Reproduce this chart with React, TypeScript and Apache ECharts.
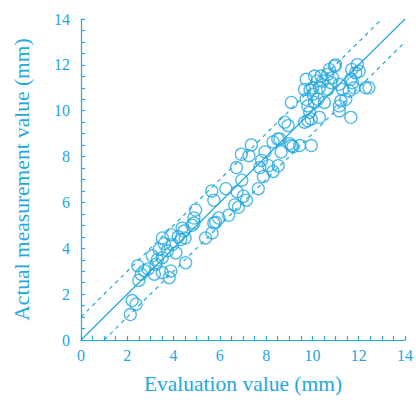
import React, { useEffect, useRef } from "react";
import * as echarts from "echarts";

const COLOR = "#22a7e0";

const xTicks = [0, 2, 4, 6, 8, 10, 12, 14];
const yTicks = [0, 2, 4, 6, 8, 10, 12, 14];

const evalValues: number[] = [
  2.13, 2.21, 2.38,
  2.45, 2.5, 2.6, 2.74, 3.17, 3.24, 3.08, 3.51, 3.51, 3.88, 3.81, 3.38, 3.52, 3.88, 3.95, 4.31, 4.1, 3.73, 4.52, 4.45, 4.88, 5.38, 5.66, 5.74,
  3.3, 2.9, 3.6, 4.2,
  4.95, 4.88, 4.8, 4.37, 4.5,
  7.36, 6.93, 7.26, 6.72, 8.3, 8.5, 7.95, 7.8, 8.65, 9.16, 7.73, 8.1, 8.3, 8.52, 7.88, 7.66, 6.95, 6.26, 5.65, 5.74, 6.74, 7.02, 7.15, 6.64, 6.8, 6.38, 5.95, 5.82,
  9.09, 8.8, 8.95, 9.09, 9.45, 9.95, 8.59, 9.73, 9.66, 9.73, 9.8, 9.88, 9.8, 9.95, 10.09, 10.3, 10.02, 10.23, 10.09, 10.37, 10.52, 10.3, 10.45, 10.66, 10.73, 10.95, 10.87, 10.8, 10.66,
  11.16, 11.3, 11.23, 11.44, 11.16, 11.16, 11.66, 11.94, 11.87, 11.73, 11.66, 11.59, 11.8, 12.3, 12.44, 12.02, 9.66, 9.02, 10.0, 10.2, 9.9, 11.0, 11.7,
];

const actualValues: number[] = [
  1.11, 1.72, 1.56,
  3.24, 2.6, 2.87, 3.02, 2.87, 3.3, 3.67, 3.59, 2.94, 3.01, 2.72, 3.95, 4.45, 4.59, 4.16, 4.38, 3.8, 3.89, 3.37, 4.75, 5.1, 4.45, 4.67, 5.1,
  3.5, 3.1, 4.2, 4.5,
  5.67, 5.32, 5.0, 4.88, 4.45,
  8.51, 8.1, 8.04, 7.52, 8.64, 8.77, 8.2, 7.83, 8.2, 8.43, 7.52, 7.6, 7.35, 7.6, 7.13, 6.6, 6.97, 6.6, 6.5, 6.1, 6.47, 6.27, 6.1, 5.89, 5.79, 5.44, 5.32, 5.14,
  10.36, 9.5, 9.35, 8.48, 8.48, 8.48, 8.77, 11.37, 10.93, 10.5, 10.21, 9.93, 9.56, 9.64, 11.51, 11.0, 10.72, 10.5, 10.36, 11.51, 10.36, 9.71, 11.29, 11.58, 11.8, 11.94, 11.44, 11.22, 10.93,
  11.15, 10.93, 10.43, 10.5, 10.21, 9.99, 9.71, 12.01, 11.65, 11.22, 11.37, 10.86, 11.0, 11.0, 11.0, 11.72, 9.5, 8.56, 11.0, 11.3, 10.9, 12.0, 11.8,
];

const identityLine = [[0, 0], [14, 14]];
const upperLine = [[0, 1], [13, 14]];
const lowerLine = [[1, 0], [14, 13]];

const FONT = "'Liberation Serif', 'Times New Roman', serif";

export default function App() {
  const ref = useRef<HTMLDivElement>(null);
  useEffect(() => {
    if (!ref.current) return;
    const chart = echarts.init(ref.current, undefined, { renderer: "svg" });
    const points = evalValues.map((x, i) => [x, actualValues[i]]);
    const axisCommon = (name: string, gap: number) => ({
      type: "value" as const,
      min: 0,
      max: 14,
      interval: 2,
      name,
      nameLocation: "middle" as const,
      nameGap: gap,
      nameTextStyle: { color: COLOR, fontFamily: FONT, fontSize: 21.5 },
      axisLine: { show: true, lineStyle: { color: COLOR, width: 1.2 } },
      axisTick: { show: true, inside: true, length: 4, lineStyle: { color: COLOR, width: 1.2 } },
      minorTick: { show: true, splitNumber: 4, length: 4, lineStyle: { color: COLOR, width: 1.2 } },
      splitLine: { show: false },
      axisLabel: { color: COLOR, fontFamily: FONT, fontSize: 16 },
    });
    chart.setOption({
      animation: false,
      backgroundColor: "#ffffff",
      grid: { left: 81, right: 8, top: 19, bottom: 57 },
      xAxis: {
        ...axisCommon("Evaluation value (mm)", 33),
        data: undefined,
        axisLabel: { color: COLOR, fontFamily: FONT, fontSize: 16, margin: 7, formatter: (v: number) => (xTicks.includes(v) ? String(v) : "") },
      },
      yAxis: {
        ...axisCommon("Actual measurement value (mm)", 48),
        axisLabel: { color: COLOR, fontFamily: FONT, fontSize: 16, margin: 11, formatter: (v: number) => (yTicks.includes(v) ? String(v) : "") },
      },
      series: [
        {
          type: "line",
          data: identityLine,
          symbol: "none",
          lineStyle: { color: COLOR, width: 1.2 },
          silent: true,
        },
        {
          type: "line",
          data: upperLine,
          symbol: "none",
          lineStyle: { color: COLOR, width: 1.2, type: [4, 4] },
          silent: true,
        },
        {
          type: "line",
          data: lowerLine,
          symbol: "none",
          lineStyle: { color: COLOR, width: 1.2, type: [4, 4] },
          silent: true,
        },
        {
          type: "scatter",
          data: points,
          symbol: "circle",
          symbolSize: 12,
          itemStyle: { color: "rgba(0,0,0,0)", borderColor: COLOR, borderWidth: 1.3 },
        },
      ],
    });
    return () => chart.dispose();
  }, []);
  return <div ref={ref} style={{ position: "fixed", left: 0, top: 0, width: 416, height: 400 }} />;
}
